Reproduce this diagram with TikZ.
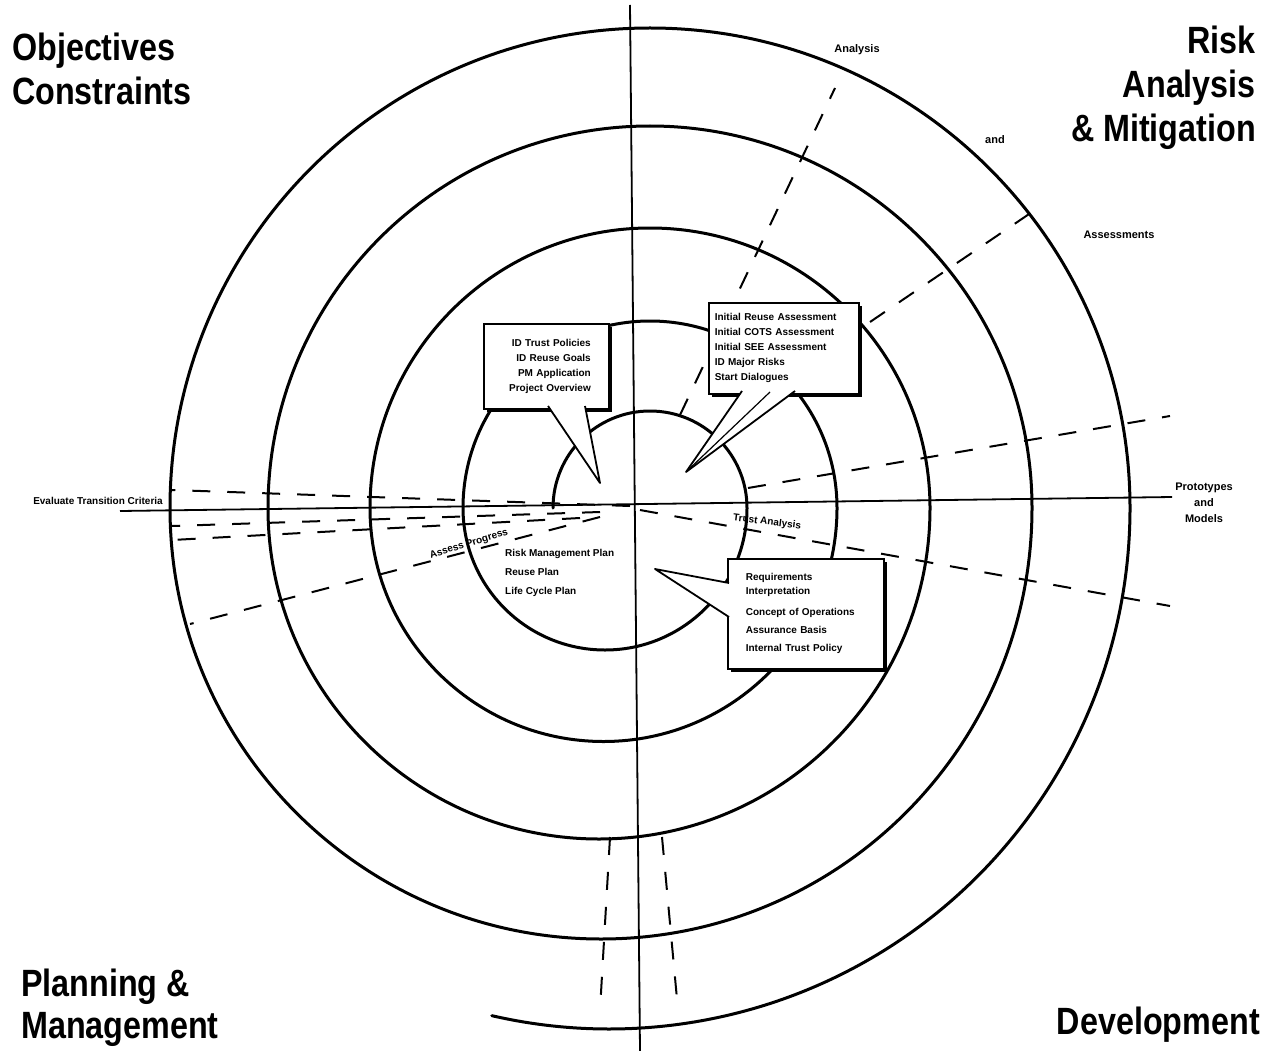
\documentclass[tikz,border=0pt]{standalone}
\usepackage{fontspec}
\setmainfont{Liberation Sans}
\newfontfamily\titlefont[FakeStretch=0.85]{Liberation Sans}
\usetikzlibrary{shadows}
\begin{document}
\begin{tikzpicture}[x=1pt,y=-1pt,
  spiral/.style={line width=3pt, line cap=round, line join=round},
  axisline/.style={line width=1.8pt},
  dashline/.style={line width=2pt, dash pattern=on 18pt off 17pt},
  big/.style={font=\titlefont\fontsize{38}{44}\selectfont\bfseries, inner sep=0pt},
  lbl/.style={font=\fontsize{11}{16}\selectfont\bfseries, inner sep=0pt},
  small/.style={font=\fontsize{10}{15}\selectfont\bfseries, inner sep=0pt},
  callout/.style={draw, line width=1.6pt, fill=white, inner sep=0pt,
    drop shadow={shadow xshift=3pt, shadow yshift=-3pt, fill=black, opacity=1},
    font=\fontsize{10}{15}\selectfont\bfseries},
  pointer/.style={draw=black, fill=white, line width=1.8pt, line join=round}
]
\useasboundingbox (0,0) rectangle (1273,1051);

% axes
\draw[axisline] (630,5) -- (640,1051);
\draw[axisline] (120,511) -- (1172,497);

% spiral
\draw[spiral] (553,508)
  arc[start angle=180,end angle=360,radius=97]
  arc[start angle=0,end angle=180,radius=142]
  arc[start angle=180,end angle=360,radius=187]
  arc[start angle=0,end angle=180,radius=233.5]
  arc[start angle=180,end angle=360,radius=280]
  arc[start angle=0,end angle=180,radius=331]
  arc[start angle=180,end angle=360,radius=382]
  arc[start angle=0,end angle=180,radius=431]
  arc[start angle=180,end angle=360,radius=480]
  arc[start angle=0,end angle=103,radius=521];

% dashed radial lines
\draw[dashline] (680,415) -- (835,88);
\draw[dashline] (870,322) -- (1035,210);
\draw[dashline] (748,488) -- (1170,416);
\draw[dashline] (640,510) -- (1170,606);
\draw[dashline] (630,506) -- (172,490);
\draw[dashline] (600,512) -- (172,526);
\draw[dashline] (580,518) -- (172,540);
\draw[dashline] (600,517) -- (190,624);
\draw[dashline] (610,837) -- (600,1010);
\draw[dashline] (662,837) -- (678,1010);

% callout 1
\node[callout, minimum width=125pt, minimum height=85pt, text width=89pt,
      align=right, anchor=north west] (b1) at (483,323)
  {ID Trust Policies\\ID Reuse Goals\\PM Application\\Project Overview};
\coordinate (t1) at (600,483);
\path[pointer] (548,406) -- (t1) -- (585,406);

% callout 2
\node[callout, minimum width=150pt, minimum height=91pt, text width=138pt,
      align=left, anchor=north west] (b2) at (708,302)
  {Initial Reuse Assessment\\Initial COTS Assessment\\Initial SEE Assessment\\ID Major Risks\\Start Dialogues};
\coordinate (t2) at (686,472);
\path[pointer] (742,391) -- (t2) -- (795,391);
\draw[line width=1.2pt] (t2) -- (770,392);

% callout 3
\node[callout, minimum width=156pt, minimum height=110pt, text width=120pt,
      align=left, anchor=north west] (b3) at (727,558)
  {Requirements\\[-1pt]Interpretation\\[6pt]Concept of Operations\\[3pt]Assurance Basis\\[3pt]Internal Trust Policy};
\coordinate (t3) at (655,569);
\path[pointer] (729,583) -- (t3) -- (729,617);

% quadrant titles
\node[big, align=left, anchor=north west] (q1) at (12,33) {Objectives\\Constraints};
\node[big, align=right, anchor=north east] (q2) at (1256,26) {Risk\\Analysis\\\& Mitigation};
\node[big, align=left, anchor=north west, font=\titlefont\fontsize{38}{42}\selectfont\bfseries] (q3) at (21,969) {Planning \&\\Management};
\node[big, anchor=base east] (q4) at (1260,1034) {Development};

% small labels
\node[lbl] (l1) at (857,50) {Analysis};
\node[lbl] (l2) at (995,140) {and};
\node[lbl] (l3) at (1119,235) {Assessments};
\node[lbl, align=center] (l4) at (1204,503) {Prototypes\\and\\Models};
\node[small] (l5) at (98,501) {Evaluate Transition Criteria};
\node[small, rotate=-7, anchor=west] (l6) at (733,518) {Trust Analysis};
\node[small, rotate=17] (l7) at (469,544) {Assess Progress};
\node[small, align=left, anchor=north west, font=\fontsize{10}{19}\selectfont\bfseries] (l8) at (505,549)
  {Risk Management Plan\\Reuse Plan\\Life Cycle Plan};
\end{tikzpicture}
\end{document}
